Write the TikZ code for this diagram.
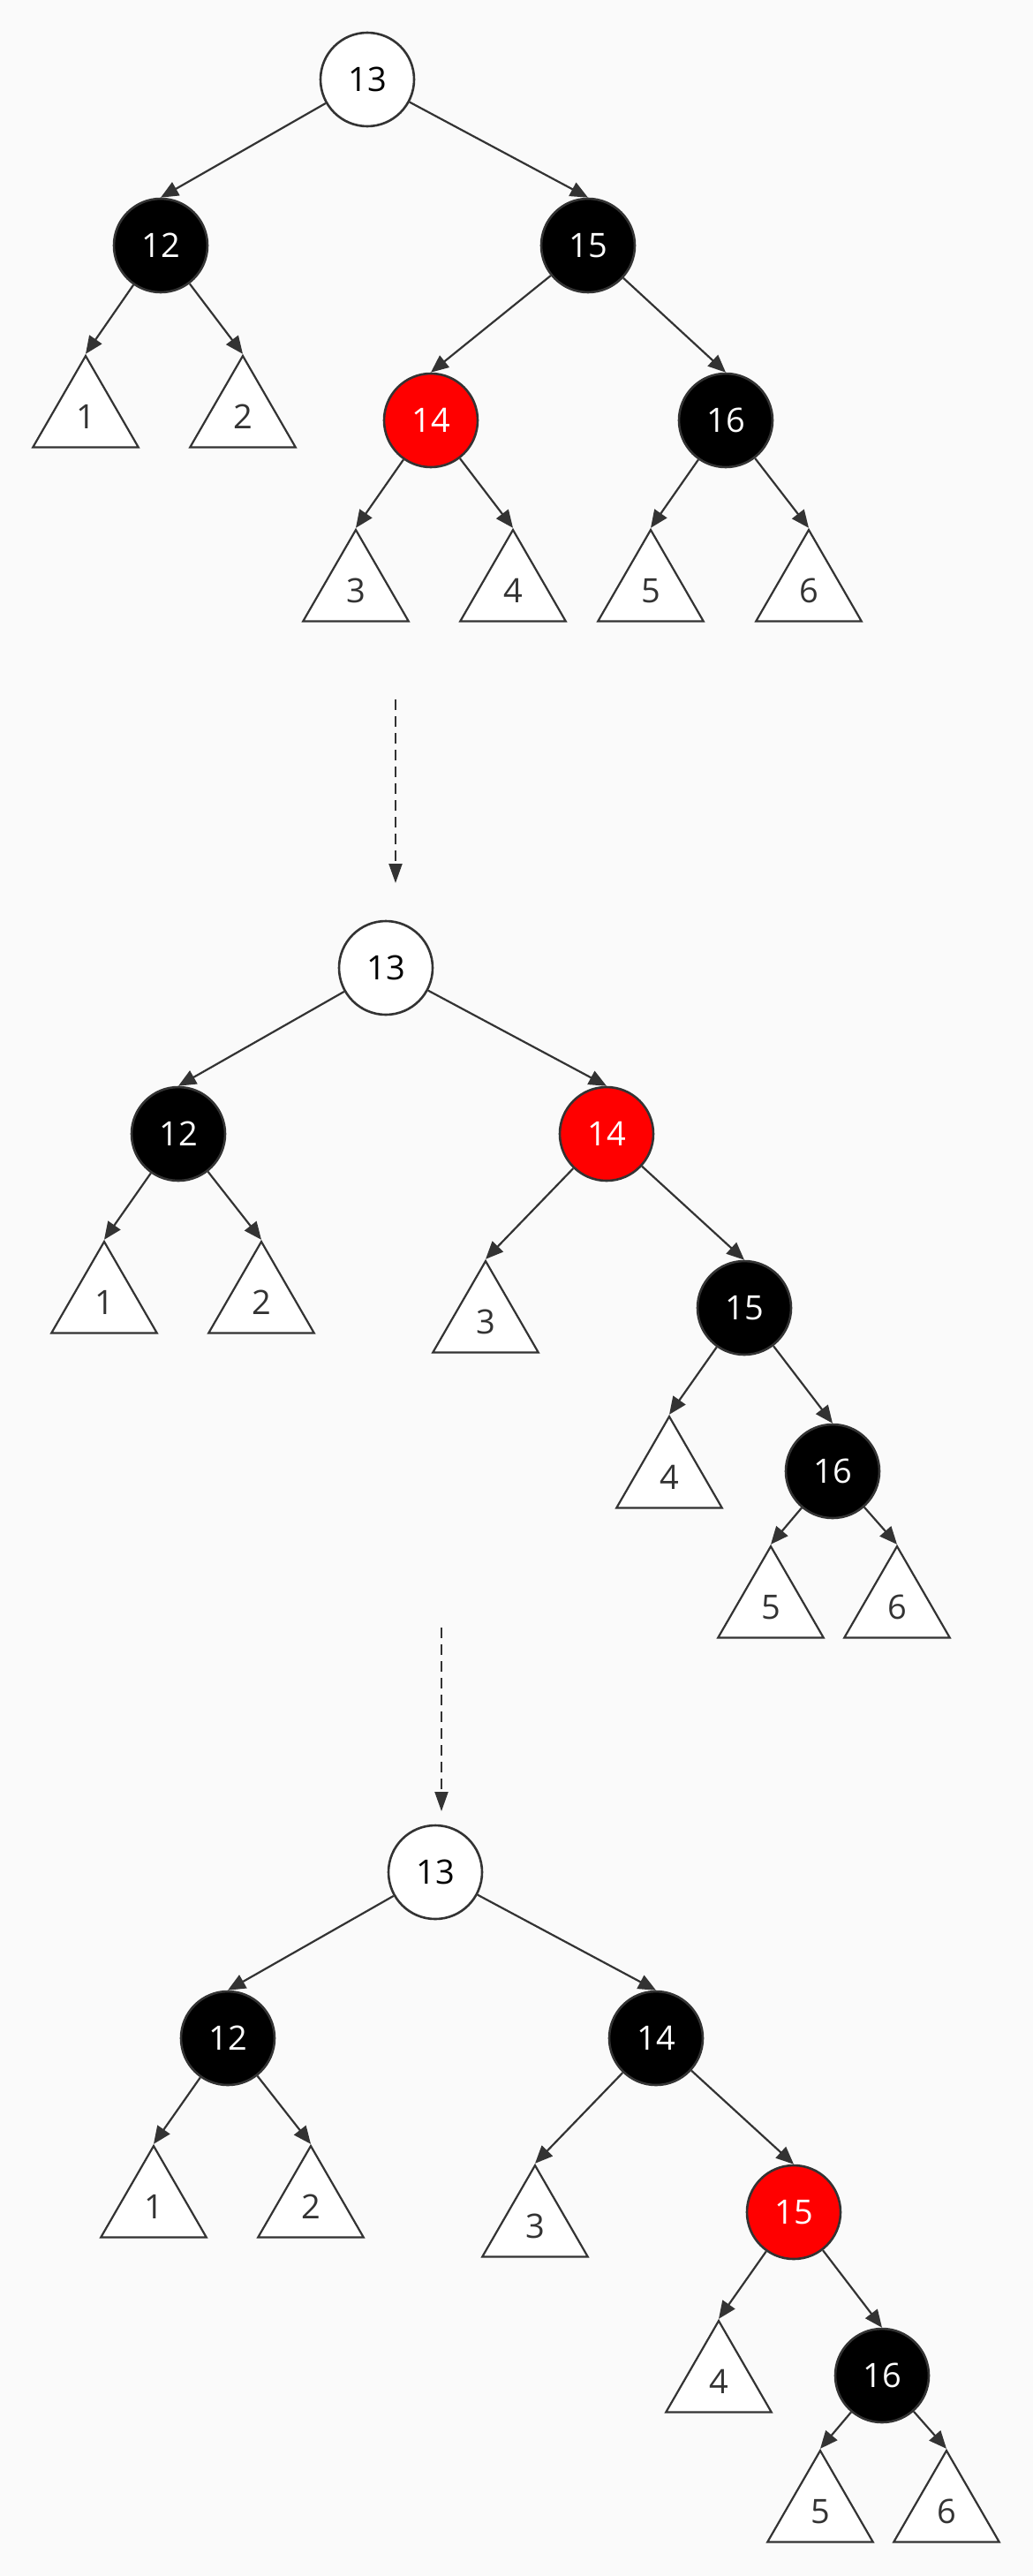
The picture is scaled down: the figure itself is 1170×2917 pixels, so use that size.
\documentclass[tikz,border=0pt]{standalone}
\usepackage{fontspec}
\setmainfont{Open Sans}
\usetikzlibrary{shapes.geometric,arrows.meta}
\definecolor{edgegray}{HTML}{333333}
\definecolor{bggray}{HTML}{FAFAFA}
\definecolor{rbred}{HTML}{FF0000}

\begin{document}
\begin{tikzpicture}[x=0.5pt, y=-0.5pt,
  every node/.style={font=\fontsize{19}{22}\selectfont},
  nd/.style={circle, draw=edgegray, line width=1.3pt, minimum size=53pt, inner sep=0pt},
  wnode/.style={nd, fill=white, text=black},
  bnode/.style={nd, fill=black, text=white},
  rnode/.style={nd, fill=rbred, text=white},
  sub/.style={regular polygon, regular polygon sides=3, draw=edgegray, fill=white,
    line width=1.1pt, minimum size=69pt, inner sep=0pt, text=edgegray},
  link/.style={draw=edgegray, line width=1.1pt, -{Triangle[length=10pt,width=8.5pt]}},
  nextstep/.style={draw=edgegray, line width=1.1pt, dash pattern=on 6pt off 3.5pt,
    -{Triangle[length=11pt,width=7.5pt]}}]

  \fill[bggray] (0,0) rectangle (1170,2917);

  %% first tree
  \node[wnode] (a13) at (416,90) {13};
  \node[bnode] (a12) at (182,278) {12};
  \node[bnode] (a15) at (666,278) {15};
  \node[rnode] (a14) at (488,476) {14};
  \node[bnode] (a16) at (822,476) {16};
  \node[sub] (a1) at (97,472) {1};
  \node[sub] (a2) at (275,472) {2};
  \node[sub] (a3) at (403,669) {3};
  \node[sub] (a4) at (581,669) {4};
  \node[sub] (a5) at (737,669) {5};
  \node[sub] (a6) at (916,669) {6};

  \draw[link] (a13) -- (a12.north); % 13->12
  \draw[link] (a13) -- (a15.north); % 13->15
  \draw[link] (a12) -- (a1.corner 1);
  \draw[link] (a12) -- (a2.corner 1);
  \draw[link] (a15) -- (a14.north); % 15->14
  \draw[link] (a15) -- (a16.north); % 15->16
  \draw[link] (a14) -- (a3.corner 1);
  \draw[link] (a14) -- (a4.corner 1);
  \draw[link] (a16) -- (a5.corner 1);
  \draw[link] (a16) -- (a6.corner 1);

  \coordinate (s1) at (448,792);
  \coordinate (e1) at (448,1000);
  \draw[nextstep] (s1) -- (e1);

  %% second tree
  \begin{scope}[shift={(21,1006)}]
    \node[wnode] (b13) at (416,90) {13};
    \node[bnode] (b12) at (181,278) {12};
    \node[rnode] (b14) at (666,278) {14};
    \node[bnode] (b15) at (822,475) {15};
    \node[bnode] (b16) at (922,660) {16};
    \node[sub] (b1) at (97,469) {1};
    \node[sub] (b2) at (275,469) {2};
    \node[sub] (b3) at (529,491) {3};
    \node[sub] (b4) at (737,667) {4};
    \node[sub] (b5) at (852,814) {5};
    \node[sub] (b6) at (995,814) {6};
  \end{scope}

  \draw[link] (b13) -- (b12.north); % 13->12
  \draw[link] (b13) -- (b14.north); % 13->14
  \draw[link] (b12) -- (b1.corner 1);
  \draw[link] (b12) -- (b2.corner 1);
  \draw[link] (b14) -- (b3.corner 1);
  \draw[link] (b14) -- (b15.north); % 14->15
  \draw[link] (b15) -- (b4.corner 1);
  \draw[link] (b15) -- (b16.north); % 15->16
  \draw[link] (b16) -- (b5.corner 1);
  \draw[link] (b16) -- (b6.corner 1);

  \coordinate (s2) at (500,1843);
  \coordinate (e2) at (500,2051);
  \draw[nextstep] (s2) -- (e2);

  %% third tree
  \begin{scope}[shift={(77,2030)}]
    \node[wnode] (c13) at (416,90) {13};
    \node[bnode] (c12) at (181,278) {12};
    \node[bnode] (c14) at (666,278) {14};
    \node[rnode] (c15) at (822,475) {15};
    \node[bnode] (c16) at (922,660) {16};
    \node[sub] (c1) at (97,469) {1};
    \node[sub] (c2) at (275,469) {2};
    \node[sub] (c3) at (529,491) {3};
    \node[sub] (c4) at (737,667) {4};
    \node[sub] (c5) at (852,814) {5};
    \node[sub] (c6) at (995,814) {6};
  \end{scope}

  \draw[link] (c13) -- (c12.north); % 13->12
  \draw[link] (c13) -- (c14.north); % 13->14
  \draw[link] (c12) -- (c1.corner 1);
  \draw[link] (c12) -- (c2.corner 1);
  \draw[link] (c14) -- (c3.corner 1);
  \draw[link] (c14) -- (c15.north); % 14->15
  \draw[link] (c15) -- (c4.corner 1);
  \draw[link] (c15) -- (c16.north); % 15->16
  \draw[link] (c16) -- (c5.corner 1);
  \draw[link] (c16) -- (c6.corner 1);

\end{tikzpicture}
\end{document}
